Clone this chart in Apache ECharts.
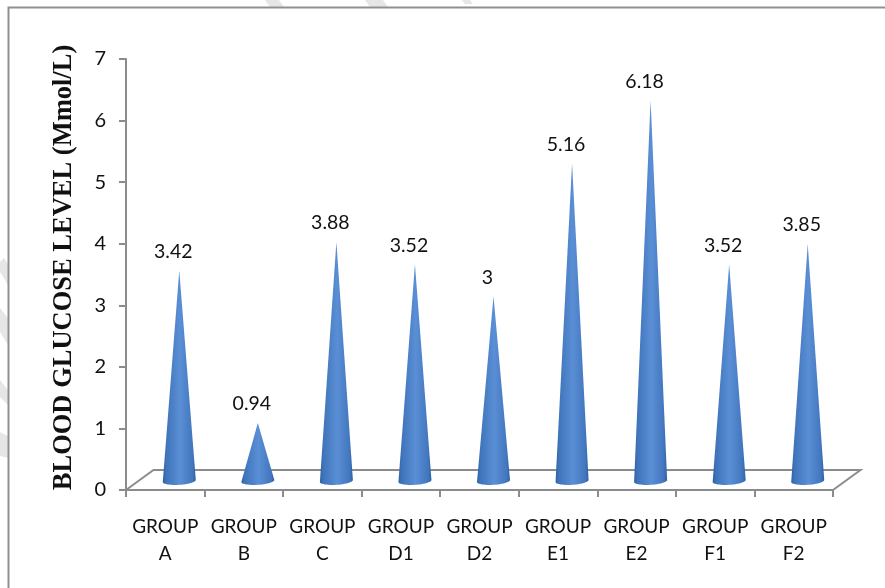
<!DOCTYPE html>
<html>
<head>
<meta charset="utf-8">
<style>html,body{margin:0;padding:0;background:#fff}#c{width:885px;height:588px}</style>
<script src="https://cdn.jsdelivr.net/npm/echarts@6/dist/echarts.min.js"></script>
</head>
<body>
<div id="c"></div>
<script>
const categories = ['GROUP\nA','GROUP\nB','GROUP\nC','GROUP\nD1','GROUP\nD2','GROUP\nE1','GROUP\nE2','GROUP\nF1','GROUP\nF2'];
const glucose = [3.42,0.94,3.88,3.52,3,5.16,6.18,3.52,3.85];
const valueLabels = ['3.42','0.94','3.88','3.52','3','5.16','6.18','3.52','3.85'];
const yTicks = [0,7];

const DX = 14, DY = -9, RX = 16.5, RY = 3.8, TILT = 1;
const FLOOR_DX = 27.5, FLOOR_DY = -20;
const AXIS = '#8c8c8c';
const coneFill = {type:'linear',x:0,y:0,x2:1,y2:0,colorStops:[
  {offset:0,color:'#2f5f9f'},{offset:0.1,color:'#3f74ba'},{offset:0.52,color:'#5a8fd6'},
  {offset:0.9,color:'#4277bf'},{offset:1,color:'#2f5f9f'}]};

function renderCone(params, api){
  const i = api.value(0), v = api.value(1);
  const base = api.coord([i,0]), top = api.coord([i,v]);
  const cx = base[0]+DX, by = base[1]+DY, ty = top[1]+DY;
  const pts = [[cx,ty]];
  for(let k=0;k<=24;k++){
    const a = k/24*Math.PI;
    pts.push([cx+RX*Math.cos(a), by+RY*Math.sin(a)-TILT*Math.cos(a)]);
  }
  return {type:'group',children:[
    {type:'polygon',shape:{points:pts},style:{fill:coneFill}},
    {type:'text',x:cx-6,y:ty-19,style:{text:valueLabels[i],fill:'#111',
      font:'19.5px Lato, "Open Sans", sans-serif',align:'center',verticalAlign:'middle'}}
  ]};
}
function renderFloor(params, api){
  const cs = params.coordSys;
  const l = cs.x, r = cs.x+cs.width, b = cs.y+cs.height;
  return {type:'polyline',silent:true,shape:{points:[
    [l,b],[l+FLOOR_DX,b+FLOOR_DY],[r+FLOOR_DX,b+FLOOR_DY],[r,b]]},
    style:{stroke:AXIS,lineWidth:2,fill:null}};
}
function bar(x,y,w,l){
  return {type:'polygon',silent:true,z:-1,
    shape:{points:[[x,y],[x+w,y],[x+w+l*0.7,y+l],[x+l*0.7,y+l]]},style:{fill:'#e6e6e6'}};
}
const chart = echarts.init(document.getElementById('c'),null,{renderer:'canvas'});
chart.setOption({
  animation:false,
  backgroundColor:'#fff',
  grid:{left:126,right:52,top:59,bottom:98},
  xAxis:{type:'category',data:categories,boundaryGap:true,
    axisLine:{lineStyle:{color:AXIS,width:2}},
    axisTick:{show:true,alignWithLabel:false,length:7,lineStyle:{color:AXIS,width:2}},
    axisLabel:{color:'#111',fontFamily:'Lato, "Open Sans", sans-serif',fontSize:19,lineHeight:27,margin:23,interval:0}},
  yAxis:{type:'value',min:yTicks[0],max:yTicks[1],interval:1,
    name:'BLOOD GLUCOSE LEVEL (Mmol/L)',nameLocation:'middle',nameGap:48,
    nameTextStyle:{color:'#111',fontFamily:'"Liberation Serif", serif',fontWeight:'bold',fontSize:26.5,padding:[0,0,0,14]},
    axisLine:{show:true,lineStyle:{color:AXIS,width:2}},
    axisTick:{show:true,length:7,lineStyle:{color:AXIS,width:2}},
    axisLabel:{color:'#111',fontFamily:'Lato, "Open Sans", sans-serif',fontSize:20,margin:20,padding:[2,0,0,0]},
    splitLine:{show:false}},
  series:[
    {type:'custom',coordinateSystem:'cartesian2d',renderItem:renderFloor,data:[[0,0]],z:1,silent:true},
    {type:'custom',coordinateSystem:'cartesian2d',renderItem:renderCone,
      encode:{x:0,y:1},data:glucose.map((v,i)=>[i,v]),z:2}
  ],
  graphic:[
    bar(265,0,14,7),bar(365,0,18,7),bar(462,0,8,4),
    {type:'polygon',silent:true,z:-1,shape:{points:[[0,262],[4,258],[8,264],[8,285],[0,272]]},style:{fill:'#e6e6e6'}},
    {type:'polygon',silent:true,z:-1,shape:{points:[[0,308],[8,318],[8,345],[0,332]]},style:{fill:'#e6e6e6'}},
    {type:'polygon',silent:true,z:-1,shape:{points:[[0,380],[8,390],[8,405],[0,397]]},style:{fill:'#e6e6e6'}},
    {type:'polygon',silent:true,z:-1,shape:{points:[[0,432],[8,436],[8,458],[0,456]]},style:{fill:'#e6e6e6'}},
    {type:'polyline',silent:true,shape:{points:[[8.5,588],[8.5,7.5],[885,7.5]]},style:{stroke:'#8f8f8f',lineWidth:2,fill:null}}
  ]
});
</script>
</body>
</html>
